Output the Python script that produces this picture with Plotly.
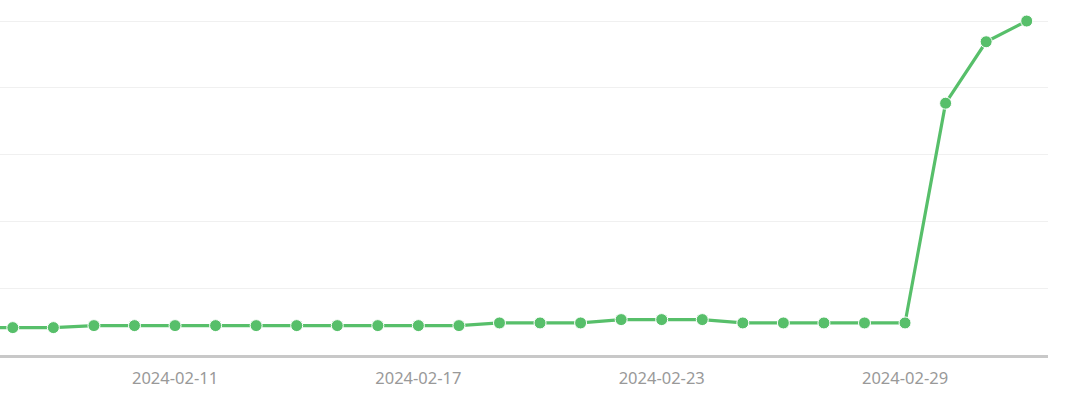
import plotly.graph_objects as go

dates = ["2024-02-06", "2024-02-07", "2024-02-08", "2024-02-09", "2024-02-10", "2024-02-11",
         "2024-02-12", "2024-02-13", "2024-02-14", "2024-02-15", "2024-02-16", "2024-02-17",
         "2024-02-18", "2024-02-19", "2024-02-20", "2024-02-21", "2024-02-22", "2024-02-23",
         "2024-02-24", "2024-02-25", "2024-02-26", "2024-02-27", "2024-02-28", "2024-02-29",
         "2024-03-01", "2024-03-02", "2024-03-03"]
values = [41, 41, 41, 44, 44, 44,
          44, 44, 44, 44, 44, 44,
          44, 48, 48, 48, 53, 53,
          53, 48, 48, 48, 48, 48,
          377, 469, 500]
tick_dates = ["2024-02-11", "2024-02-17", "2024-02-23", "2024-02-29"]

green = "#57bf6a"

fig = go.Figure()
fig.add_trace(go.Scatter(
    x=dates, y=values, mode="lines+markers",
    line=dict(color=green, width=3.2),
    marker=dict(color=green, size=12, line=dict(color="white", width=1)),
    cliponaxis=True, showlegend=False,
))

fig.update_layout(
    width=1080, height=401,
    margin=dict(l=0, r=32, t=0, b=46),
    plot_bgcolor="white", paper_bgcolor="white",
    font=dict(family="Noto Sans, sans-serif", size=16.5, color="#999999"),
    xaxis=dict(
        range=["2024-02-06 16:25", "2024-03-03 12:36"],
        tickmode="array", tickvals=tick_dates, ticktext=tick_dates,
        showgrid=False, zeroline=False,
        showline=True, linecolor="#c8c8c8", linewidth=3,
        ticks="", ticklabelstandoff=6,
    ),
    yaxis=dict(
        range=[0, 531.5], dtick=100, tick0=0,
        showgrid=True, gridcolor="#f0f0f0", gridwidth=1,
        zeroline=False, showticklabels=False, ticks="",
    ),
)

fig.write_html("out.html", config={"displayModeBar": False},
               post_script="document.body.style.margin='0';document.body.style.padding='0';")
